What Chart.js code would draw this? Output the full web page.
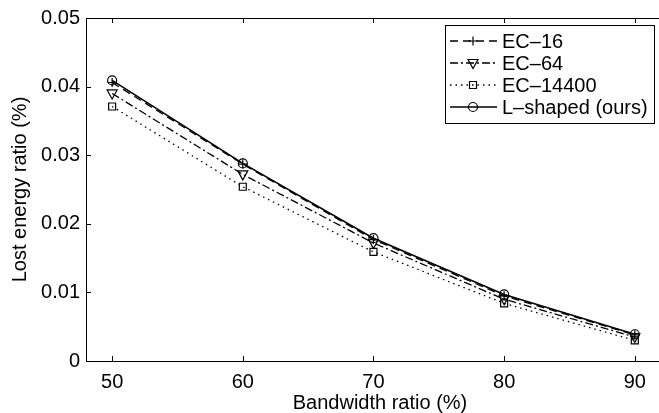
<!DOCTYPE html>
<html>
<head>
<meta charset="utf-8">
<script src="https://cdn.jsdelivr.net/npm/chart.js@4.4.0/dist/chart.umd.min.js"></script>
<style>
  html, body { margin: 0; padding: 0; background: #fff; overflow: hidden; }
  #wrap { position: absolute; left: 0; top: 0; width: 676px; height: 413px; }
</style>
</head>
<body>
<div id="wrap"><canvas id="mycanvas"></canvas></div>
<script>
// data
var bandwidth = [50, 60, 70, 80, 90];
var ec16 = [0.0406, 0.0287, 0.0177, 0.0095, 0.0038];
var ec64 = [0.0390, 0.0272, 0.0172, 0.0090, 0.0035];
var ec14400 = [0.0371, 0.0254, 0.0159, 0.0084, 0.0030];
var lshaped = [0.0409, 0.0288, 0.0179, 0.0097, 0.0039];
var seriesNames = ["EC–16", "EC–64", "EC–14400", "L–shaped (ours)"];
var xTicks = [50, 60, 70, 80, 90];
var yTicks = [0, 0.01, 0.02, 0.03, 0.04, 0.05];

var FONT = "'Liberation Sans', Arial, Helvetica, sans-serif";

function pts(values) {
	var out = [];
	for (var i in values) {
		out.push({x: bandwidth[i], y: values[i]});
	}
	return out;
}

var styles = [
	{dash: [8, 5], marker: "plus"},
	{dash: [8, 3, 2, 3], marker: "tri"},
	{dash: [1.5, 4], marker: "square"},
	{dash: [], marker: "circle"}
];

function drawMarker(ctx, kind, x, y) {
	ctx.save();
	ctx.setLineDash([]);
	ctx.lineWidth = 1.2;
	ctx.strokeStyle = "#000";
	ctx.beginPath();
	if (kind == "plus") {
		ctx.moveTo(x - 4.5, y); ctx.lineTo(x + 4.5, y);
		ctx.moveTo(x, y - 4.5); ctx.lineTo(x, y + 4.5);
	} else if (kind == "tri") {
		ctx.moveTo(x - 5, y - 3.5); ctx.lineTo(x + 5, y - 3.5); ctx.lineTo(x, y + 5.5); ctx.closePath();
	} else if (kind == "square") {
		ctx.rect(x - 3.5, y - 3.5, 7, 7);
	} else {
		ctx.arc(x, y, 4.5, 0, Math.PI * 2);
	}
	ctx.stroke();
	ctx.restore();
}

function makeSet(label, values, idx) {
	return {
		label: label,
		data: pts(values),
		showLine: true,
		fill: false,
		tension: 0,
		borderColor: "#000",
		borderWidth: idx == 3 ? 1.6 : 1.3,
		borderDash: styles[idx].dash,
		pointRadius: 0,
		pointHoverRadius: 0
	};
}

var frameAndLegend = {
	id: "frameAndLegend",
	afterDatasetsDraw: function(chart) {
		var ctx = chart.ctx;
		var a = chart.chartArea;
		var xs = chart.scales.x, ys = chart.scales.y;
		ctx.save();
		// markers on top of lines
		chart.data.datasets.forEach(function(ds, i) {
			ds.data.forEach(function(p) {
				drawMarker(ctx, styles[i].marker, xs.getPixelForValue(p.x), ys.getPixelForValue(p.y));
			});
		});
		// box frame with inward ticks
		ctx.strokeStyle = "#000";
		ctx.lineWidth = 1;
		ctx.setLineDash([]);
		ctx.strokeRect(Math.round(a.left) + 0.5, Math.round(a.top) + 0.5, Math.round(a.right - a.left), Math.round(a.bottom - a.top));
		ctx.beginPath();
		xTicks.forEach(function(v) {
			var px = Math.round(xs.getPixelForValue(v)) + 0.5;
			ctx.moveTo(px, a.bottom); ctx.lineTo(px, a.bottom - 5);
			ctx.moveTo(px, a.top); ctx.lineTo(px, a.top + 5);
		});
		yTicks.forEach(function(v) {
			var py = Math.round(ys.getPixelForValue(v)) + 0.5;
			ctx.moveTo(a.left, py); ctx.lineTo(a.left + 5, py);
			ctx.moveTo(a.right, py); ctx.lineTo(a.right - 5, py);
		});
		ctx.stroke();
		// legend box
		var bw = 209, bh = 98;
		var bx = Math.round(a.left + 359), by = Math.round(a.top + 7);
		ctx.fillStyle = "#fff";
		ctx.fillRect(bx, by, bw, bh);
		ctx.strokeRect(bx + 0.5, by + 0.5, bw, bh);
		ctx.font = "20px " + FONT;
		ctx.textBaseline = "middle";
		ctx.textAlign = "left";
		seriesNames.forEach(function(name, i) {
			var cy = by + 16 + i * 22;
			ctx.save();
			ctx.lineWidth = i == 3 ? 1.6 : 1.3;
			ctx.setLineDash(styles[i].dash);
			ctx.beginPath();
			ctx.moveTo(bx + 5, cy); ctx.lineTo(bx + 52, cy);
			ctx.stroke();
			ctx.restore();
			drawMarker(ctx, styles[i].marker, bx + 28, cy);
			ctx.fillStyle = "#000";
			ctx.fillText(name, bx + 57, cy + 1);
		});
		ctx.restore();
	}
};

var ctx = document.getElementById("mycanvas");

var LineGraph = new Chart(ctx, {
	type: "scatter",
	data: {
		datasets: [
			makeSet(seriesNames[0], ec16, 0),
			makeSet(seriesNames[1], ec64, 1),
			makeSet(seriesNames[2], ec14400, 2),
			makeSet(seriesNames[3], lshaped, 3)
		]
	},
	options: {
		responsive: true,
		maintainAspectRatio: false,
		devicePixelRatio: 1,
		animation: false,
		layout: {padding: {top: 15, right: 2, left: 0, bottom: 0}},
		plugins: {legend: {display: false}, tooltip: {enabled: false}},
		scales: {
			x: {
				type: "linear",
				min: 48,
				max: 93,
				afterBuildTicks: function(scale) {
					scale.ticks = xTicks.map(function(v) { return {value: v}; });
				},
				afterFit: function(scale) { scale.height = 52; },
				grid: {display: false, drawTicks: false},
				border: {display: false},
				ticks: {color: "#000", padding: 9, maxRotation: 0, font: {family: FONT, size: 20}},
				title: {display: true, text: "Bandwidth ratio (%)", color: "#000", padding: {top: 0, bottom: 0}, font: {family: FONT, size: 20, lineHeight: 1}}
			},
			y: {
				type: "linear",
				min: 0,
				max: 0.05,
				afterBuildTicks: function(scale) {
					scale.ticks = yTicks.map(function(v) { return {value: v}; });
				},
				afterFit: function(scale) { scale.width = 86; },
				grid: {display: false, drawTicks: false},
				border: {display: false},
				ticks: {
					color: "#000",
					padding: 6,
					font: {family: FONT, size: 20},
					callback: function(v) { return v == 0 ? "0" : v.toFixed(2); }
				},
				title: {display: true, text: "Lost energy ratio (%)", color: "#000", padding: {top: 10, bottom: 0}, font: {family: FONT, size: 20, lineHeight: 1}}
			}
		}
	},
	plugins: [frameAndLegend]
});
</script>
</body>
</html>
